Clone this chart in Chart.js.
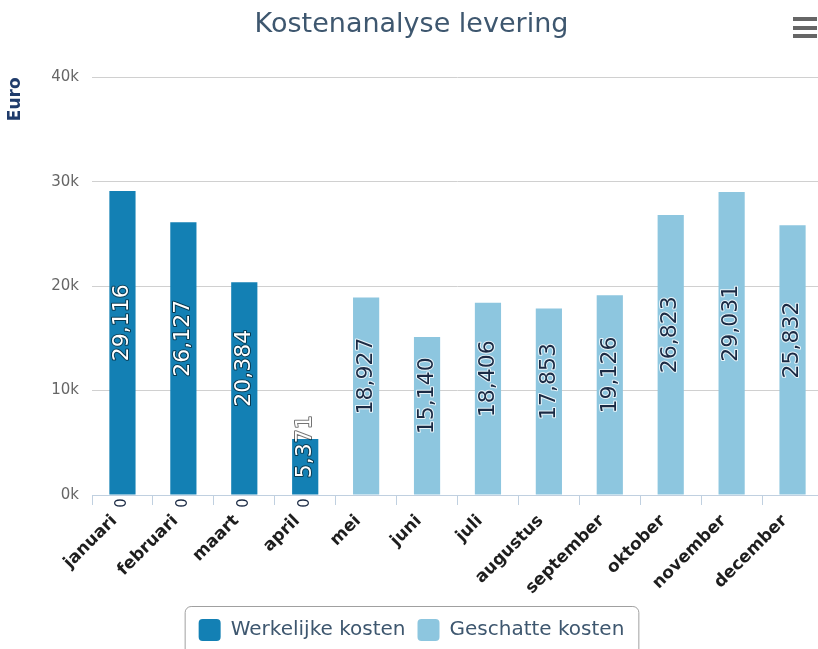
<!DOCTYPE html>
<html>
<head>
<meta charset="utf-8">
<script src="https://cdn.jsdelivr.net/npm/chart.js@4/dist/chart.umd.min.js"></script>
<style>
  html, body { margin: 0; padding: 0; background: #fff; overflow: hidden; }
  #wrap { width: 823px; height: 662px; }
</style>
</head>
<body>
<div id="wrap"><canvas id="myChart" width="823" height="662"></canvas></div>
<script>
const months = ['januari', 'februari', 'maart', 'april', 'mei', 'juni', 'juli', 'augustus', 'september', 'oktober', 'november', 'december'];
const werkelijk = [29116, 26127, 20384, 5371, null, null, null, null, null, null, null, null];
const geschat = [0, 0, 0, 0, 18927, 15140, 18406, 17853, 19126, 26823, 29031, 25832];
const yTicks = [0, 10000, 20000, 30000, 40000];

const titleColor = '#3E576F';

// value labels rotated inside the bars
const barLabels = {
  id: 'barLabels',
  afterDatasetsDraw(chart) {
    const ctx = chart.ctx;
    chart.data.datasets.forEach((ds, di) => {
      const meta = chart.getDatasetMeta(di);
      meta.data.forEach((bar, i) => {
        const v = ds.data[i];
        if (v === null || v === undefined) return;
        const txt = v.toLocaleString('en-US');
        let cy = v === 0 ? bar.base + 8 : (bar.y + bar.base) / 2 - 20;
        ctx.save();
        ctx.translate(bar.x, cy);
        ctx.rotate(-Math.PI / 2);
        ctx.font = (v === 0 ? '15px' : '22px') + ' "DejaVu Sans"';
        ctx.textAlign = 'center';
        ctx.textBaseline = 'middle';
        ctx.lineWidth = 2;
        ctx.lineJoin = 'round';
        if (di === 0) {
          ctx.strokeStyle = 'rgba(0,0,0,0.55)';
          ctx.strokeText(txt, 0, 0);
          ctx.fillStyle = '#ffffff';
        } else {
          ctx.strokeStyle = 'rgba(255,255,255,0.8)';
          ctx.strokeText(txt, 0, 0);
          ctx.fillStyle = '#1b2a44';
        }
        ctx.fillText(txt, 0, 0);
        ctx.restore();
      });
    });
  }
};

// menu icon and legend frame
const extras = {
  id: 'extras',
  afterDraw(chart) {
    const ctx = chart.ctx;
    ctx.save();
    ctx.fillStyle = '#666666';
    [17, 26, 34].forEach(y => ctx.fillRect(793, y, 24, 4));
    const boxes = chart.legend.legendHitBoxes;
    if (boxes && boxes.length) {
      const l = Math.min(...boxes.map(b => b.left)) - 14;
      const r = Math.max(...boxes.map(b => b.left + b.width)) + 14;
      const t = Math.min(...boxes.map(b => b.top)) - 13;
      ctx.strokeStyle = '#a0a0a0';
      ctx.lineWidth = 1;
      ctx.beginPath();
      ctx.roundRect(l + 0.5, t + 0.5, r - l, 60, 6);
      ctx.stroke();
    }
    ctx.restore();
  }
};

const data = {
  labels: months,
  datasets: [
    {
      label: 'Werkelijke kosten',
      data: werkelijk,
      backgroundColor: '#1380B4',
      categoryPercentage: 1,
      barPercentage: 0.43
    },
    {
      label: 'Geschatte kosten',
      data: geschat,
      backgroundColor: '#8DC6DF',
      categoryPercentage: 1,
      barPercentage: 0.43
    }
  ]
};

const config = {
  type: 'bar',
  data: data,
  options: {
    responsive: false,
    animation: false,
    layout: { padding: { left: 0, right: 0, top: 0, bottom: 11 } },
    plugins: {
      title: {
        display: true,
        text: 'Kostenanalyse levering',
        color: titleColor,
        font: { family: 'DejaVu Sans', size: 27, weight: 'normal' },
        padding: { top: 9, bottom: 36 }
      },
      legend: {
        position: 'bottom',
        labels: {
          color: titleColor,
          font: { family: 'DejaVu Sans', size: 20 },
          boxWidth: 22,
          boxHeight: 22,
          useBorderRadius: true,
          borderRadius: 4,
          padding: 12
        }
      },
      tooltip: { enabled: false }
    },
    scales: {
      x: {
        stacked: true,
        afterFit: (s) => { s.height = 112; },
        grid: {
          drawOnChartArea: false,
          drawTicks: true,
          tickLength: 10,
          color: '#C0D0E0',
          offset: true
        },
        border: { color: '#C0D0E0', width: 1 },
        ticks: {
          autoSkip: false,
          minRotation: 45,
          maxRotation: 45,
          padding: 6,
          labelOffset: -8,
          color: '#1e1e1e',
          font: { family: 'DejaVu Sans', size: 17, weight: 'bold' }
        }
      },
      y: {
        stacked: false,
        min: 0,
        max: 40000,
        afterFit: (s) => { s.width = 92; },
        afterBuildTicks: (s) => { s.ticks = yTicks.map(v => ({ value: v })); },
        grid: { color: '#D0D0D0', drawTicks: false },
        border: { display: false },
        ticks: {
          padding: 13,
          color: '#666666',
          font: { family: 'DejaVu Sans', size: 15 },
          callback: (v) => (v / 1000) + 'k'
        },
        title: {
          display: true,
          text: 'Euro',
          align: 'end',
          color: '#1F3B6B',
          font: { family: 'DejaVu Sans', size: 17, weight: 'bold' },
          padding: { top: 5, bottom: 0 }
        }
      }
    }
  },
  plugins: [barLabels, extras]
};

const ctx = document.getElementById('myChart');
new Chart(ctx, config);
</script>
</body>
</html>
